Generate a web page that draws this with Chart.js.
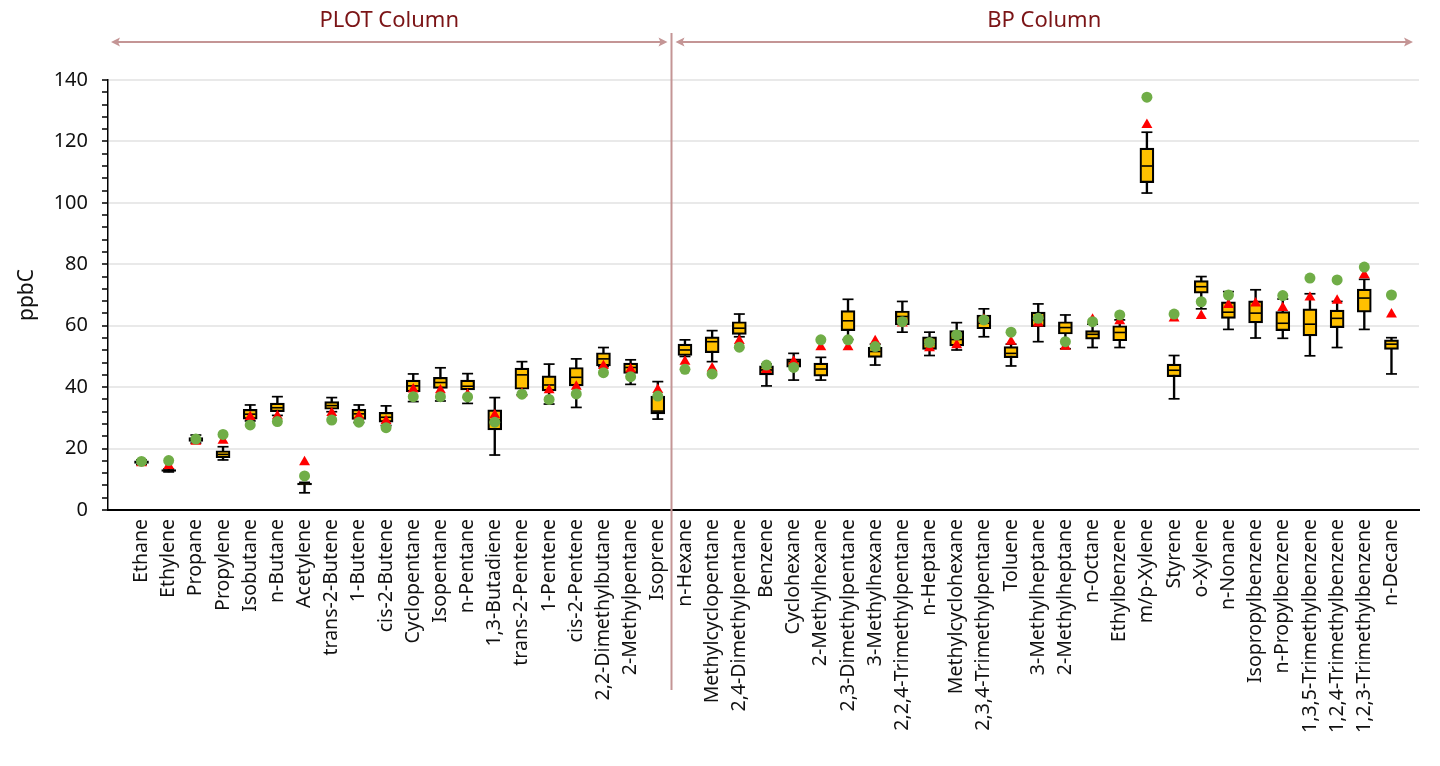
<!DOCTYPE html>
<html>
<head>
<meta charset="utf-8">
<script src="https://cdn.jsdelivr.net/npm/chart.js@4.4.1/dist/chart.umd.min.js"></script>
<style>
  html, body { margin: 0; padding: 0; background: #ffffff; }
  #wrap { width: 1440px; height: 766px; position: relative; }
</style>
</head>
<body>
<div id="wrap"><canvas id="c" width="1440" height="766"></canvas></div>
<script>
const categories = [
  'Ethane','Ethylene','Propane','Propylene','Isobutane','n-Butane','Acetylene','trans-2-Butene','1-Butene','cis-2-Butene',
  'Cyclopentane','Isopentane','n-Pentane','1,3-Butadiene','trans-2-Pentene','1-Pentene','cis-2-Pentene','2,2-Dimethylbutane','2-Methylpentane','Isoprene',
  'n-Hexane','Methylcyclopentane','2,4-Dimethylpentane','Benzene','Cyclohexane','2-Methylhexane','2,3-Dimethylpentane','3-Methylhexane','2,2,4-Trimethylpentane','n-Heptane',
  'Methylcyclohexane','2,3,4-Trimethylpentane','Toluene','3-Methylheptane','2-Methylheptane','n-Octane','Ethylbenzene','m/p-Xylene','Styrene','o-Xylene',
  'n-Nonane','Isopropylbenzene','n-Propylbenzene','1,3,5-Trimethylbenzene','1,2,4-Trimethylbenzene','1,2,3-Trimethylbenzene','n-Decane'
];
const sectionNames = ['PLOT Column', 'BP Column'];
const plotColumnCount = 20;

const whiskerLow  = [14.8,12.4,21.8,16.3,29.0,30.8,5.6,32.0,28.5,27.5, 35.3,35.5,34.7,17.9,37.5,34.5,33.4,46.7,40.9,29.6,
                     50.0,48.3,56.4,40.4,42.3,42.3,55.5,47.2,57.9,50.3, 52.1,56.4,46.9,54.8,52.5,52.9,52.9,103.2,36.2,65.5,
                     58.8,56.0,55.9,50.2,52.9,58.8,44.3];
const q1          = [15.2,12.6,22.3,17.0,29.6,32.0,8.2,32.8,29.5,28.6, 38.5,39.6,39.1,26.1,39.3,38.8,40.4,46.9,44.5,31.3,
                     50.3,51.2,57.2,44.0,46.5,43.6,58.4,49.7,60.3,52.3, 53.4,59.0,49.6,59.7,57.3,55.6,55.1,106.6,43.4,70.6,
                     62.4,60.9,58.4,56.7,59.4,64.4,52.3];
const median      = [15.6,12.9,23.0,18.1,31.2,33.3,8.5,34.0,31.3,30.2, 40.4,41.5,40.3,29.3,44.0,40.7,43.2,49.2,46.4,32.2,
                     52.1,54.8,59.2,45.6,48.3,45.9,61.6,51.6,63.0,54.3, 55.5,60.8,51.0,61.9,59.4,57.2,57.8,112.0,45.5,72.7,
                     64.4,64.1,60.8,60.5,62.4,69.0,54.0];
const q3          = [16.0,13.2,23.6,19.3,32.8,34.8,8.8,35.3,32.8,31.8, 42.3,43.2,42.3,32.6,46.2,43.7,46.4,51.2,47.8,37.1,
                     54.0,56.4,61.3,46.9,49.2,47.8,64.9,53.0,64.8,56.4, 58.4,63.5,53.2,64.4,61.3,58.4,60.0,117.8,47.5,74.7,
                     67.8,68.1,64.6,65.5,65.1,71.9,55.4];
const whiskerHigh = [16.3,13.4,24.4,20.6,34.2,36.9,9.0,36.6,34.2,33.9, 44.3,46.3,44.4,36.6,48.3,47.5,49.2,52.9,48.9,41.8,
                     55.4,58.4,63.8,47.5,51.0,49.7,68.6,54.0,67.9,57.9, 61.0,65.5,54.0,67.1,63.5,60.5,61.9,123.0,50.3,76.0,
                     71.1,71.7,68.7,70.4,67.9,75.1,56.1];
const triangleVals = [15.3,14.4,22.3,22.6,30.3,30.6,15.6,31.6,30.6,29.0, 39.3,39.0,37.6,30.9,38.0,39.0,40.2,46.9,45.8,39.1,
                      48.3,46.1,55.1,45.6,48.3,53.0,53.0,55.0,60.8,52.7, 53.7,62.0,54.8,60.8,53.2,62.0,61.5,125.4,62.4,63.2,
                      66.8,67.3,65.8,69.2,68.2,76.5,63.7];
const circleVals   = [15.8,16.1,23.1,24.6,27.7,28.8,11.1,29.3,28.6,26.8, 36.9,36.9,36.8,28.6,37.7,36.0,37.8,44.7,43.4,37.1,
                      45.8,44.3,53.0,47.2,46.4,55.4,55.4,53.2,61.3,54.5, 57.0,61.9,57.9,62.4,54.8,61.3,63.5,134.4,63.8,67.8,
                      70.0,null,69.8,75.5,74.9,79.1,70.0];

const FONT = "'Noto Sans', 'Open Sans', sans-serif";
const idx = categories.map((_, i) => i);

const sectionPlugin = {
  id: 'sections',
  afterDraw(chart) {
    const { ctx, chartArea, scales } = chart;
    const xs = scales.x;
    const divX = Math.round(xs.getPixelForValue(plotColumnCount - 0.5)) + 0.5;
    const arrowColor = '#C49595';
    const y = 42;
    ctx.save();
    ctx.strokeStyle = arrowColor;
    ctx.lineWidth = 2;
    ctx.beginPath();
    ctx.moveTo(divX, 33);
    ctx.lineTo(divX, 690);
    ctx.stroke();
    function arrow(x1, x2) {
      ctx.strokeStyle = arrowColor;
      ctx.fillStyle = arrowColor;
      ctx.lineWidth = 2;
      ctx.beginPath();
      ctx.moveTo(x1 + 4, y);
      ctx.lineTo(x2 - 4, y);
      ctx.stroke();
      ctx.beginPath();
      ctx.moveTo(x1, y); ctx.lineTo(x1 + 9, y - 4.5); ctx.lineTo(x1 + 7, y); ctx.lineTo(x1 + 9, y + 4.5); ctx.closePath();
      ctx.fill();
      ctx.beginPath();
      ctx.moveTo(x2, y); ctx.lineTo(x2 - 9, y - 4.5); ctx.lineTo(x2 - 7, y); ctx.lineTo(x2 - 9, y + 4.5); ctx.closePath();
      ctx.fill();
    }
    const a1 = [chartArea.left + 3, divX - 4];
    const a2 = [divX + 4, chartArea.right - 6];
    arrow(a1[0], a1[1]);
    arrow(a2[0], a2[1]);
    ctx.fillStyle = '#7B1416';
    ctx.font = '22px ' + FONT;
    ctx.textAlign = 'center';
    ctx.textBaseline = 'middle';
    ctx.fillText(sectionNames[0], (a1[0] + a1[1]) / 2, 21);
    ctx.fillText(sectionNames[1], (a2[0] + a2[1]) / 2, 21);
    ctx.restore();
  }
};

const chart = new Chart(document.getElementById('c'), {
  type: 'bar',
  data: {
    datasets: [
      {
        type: 'scatter', label: 'circle', order: 0,
        data: idx.map(i => ({ x: i, y: circleVals[i] })),
        pointStyle: 'circle', pointRadius: 5.5, pointBackgroundColor: '#70AD47', pointBorderColor: '#70AD47', pointBorderWidth: 0
      },
      {
        type: 'scatter', label: 'triangle', order: 1,
        data: idx.map(i => ({ x: i, y: triangleVals[i] })),
        pointStyle: 'triangle', pointRadius: 6.3, pointBackgroundColor: '#FF0000', pointBorderColor: '#FF0000', pointBorderWidth: 0
      },
      {
        type: 'scatter', label: 'median', order: 2,
        data: idx.map(i => ({ x: i, y: median[i] })),
        pointStyle: 'line', pointRadius: 5.5, pointBorderColor: '#000000', pointBorderWidth: 1.6
      },
      {
        type: 'bar', label: 'box', order: 3, grouped: false,
        data: idx.map(i => ({ x: i, y: [q1[i], q3[i]] })),
        backgroundColor: '#FFC000', borderColor: '#000000', borderWidth: 2.2, borderSkipped: false, barThickness: 14
      },
      {
        type: 'scatter', label: 'caps', order: 4,
        data: idx.flatMap(i => [{ x: i, y: whiskerLow[i] }, { x: i, y: whiskerHigh[i] }]),
        pointStyle: 'line', pointRadius: 5.5, pointBorderColor: '#000000', pointBorderWidth: 1.7
      },
      {
        type: 'bar', label: 'whisker', order: 5, grouped: false,
        data: idx.map(i => ({ x: i, y: [whiskerLow[i], whiskerHigh[i]] })),
        backgroundColor: '#000000', borderWidth: 0, barThickness: 1.7
      }
    ]
  },
  options: {
    responsive: false,
    animation: false,
    events: [],
    layout: { padding: { top: 80, right: 21, left: 0, bottom: 0 } },
    plugins: { legend: { display: false }, tooltip: { enabled: false } },
    scales: {
      x: {
        type: 'linear',
        min: -0.72,
        max: 46.5,
        afterFit: s => { s.height = 256; },
        grid: { display: false, drawTicks: false },
        border: { display: true, color: '#000000', width: 2 },
        ticks: {
          stepSize: 1,
          includeBounds: false,
          autoSkip: false,
          minRotation: 90,
          maxRotation: 90,
          padding: 9,
          color: '#111111',
          font: { family: FONT, size: 19.5 },
          callback: v => (Number.isInteger(v) && categories[v] !== undefined) ? categories[v] : ''
        }
      },
      y: {
        min: 0,
        max: 140,
        afterFit: s => { s.width = 108; },
        border: { display: true, color: '#000000', width: 1.5 },
        grid: {
          color: c => (c.tick && c.tick.value % 20 === 0 && c.tick.value !== 0) ? '#E9E9E9' : 'rgba(0,0,0,0)',
          lineWidth: 2,
          tickColor: '#000000',
          tickWidth: 1.5,
          tickLength: 6
        },
        ticks: {
          stepSize: 4,
          autoSkip: false,
          padding: 14,
          color: '#111111',
          font: { family: FONT, size: 20 },
          callback: v => (v % 20 === 0) ? String(v) : ''
        },
        title: {
          display: true,
          text: 'ppbC',
          color: '#111111',
          font: { family: FONT, size: 21 },
          padding: { top: 14, bottom: 0 }
        }
      }
    }
  },
  plugins: [sectionPlugin]
});
</script>
</body>
</html>
